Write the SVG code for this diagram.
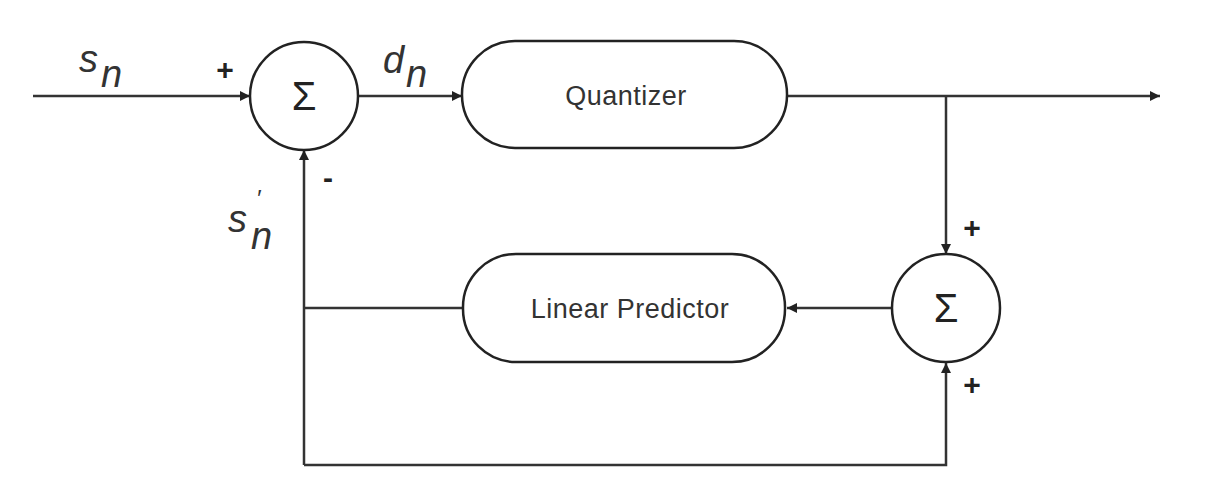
<svg xmlns="http://www.w3.org/2000/svg" width="1208" height="500" viewBox="0 0 1208 500">
<style>
.ln{stroke:#333;stroke-width:2.5;fill:none}
.nd{stroke:#222;stroke-width:2.5;fill:#fff}
.lb{font-family:"Liberation Sans",Arial,sans-serif;fill:#333}
.it{font-family:"Liberation Sans",Arial,sans-serif;font-style:italic;fill:#333;font-size:38px}
.pm{font-family:"Liberation Sans",Arial,sans-serif;fill:#222;font-size:30px;font-weight:bold}
.sg{font-family:"Liberation Sans","DejaVu Sans",sans-serif;fill:#222;font-size:40px}
</style>
<defs>
<marker id="ar" viewBox="0 0 10 10" refX="10" refY="5" markerWidth="12" markerHeight="10" markerUnits="userSpaceOnUse" orient="auto">
<path d="M0,0 L10,5 L0,10 z" fill="#222"/>
</marker>
</defs>
<rect width="1208" height="500" fill="#fff"/>
<g id="connectors">
<line class="ln" x1="33" y1="96" x2="250" y2="96" marker-end="url(#ar)"/>
<line class="ln" x1="358" y1="96" x2="462" y2="96" marker-end="url(#ar)"/>
<line class="ln" x1="787" y1="96" x2="1160" y2="96" marker-end="url(#ar)"/>
<line class="ln" x1="946" y1="96" x2="946" y2="254" marker-end="url(#ar)"/>
<line class="ln" x1="892" y1="308" x2="787" y2="308" marker-end="url(#ar)"/>
<polyline class="ln" points="463,308 304,308"/>
<line class="ln" x1="304" y1="465" x2="304" y2="150" marker-end="url(#ar)"/>
<polyline class="ln" points="304,465 946,465 946,363" marker-end="url(#ar)"/>
</g>
<g id="sum1">
<circle class="nd" cx="304" cy="96" r="54"/>
<text class="sg" x="304" y="110" text-anchor="middle">Σ</text>
</g>
<g id="quantizer">
<rect class="nd" x="462" y="41" width="325" height="107" rx="53" ry="53"/>
<text class="lb" x="626" y="105" font-size="27" text-anchor="middle" letter-spacing="0.5">Quantizer</text>
</g>
<g id="predictor">
<rect class="nd" x="463" y="254" width="322" height="108" rx="53" ry="53"/>
<text class="lb" x="630" y="318" font-size="27" text-anchor="middle" letter-spacing="0.5">Linear Predictor</text>
</g>
<g id="sum2">
<circle class="nd" cx="946" cy="308" r="54"/>
<text class="sg" x="946" y="322" text-anchor="middle">Σ</text>
</g>
<g id="labels">
<text class="it" x="228" y="232">s<tspan x="256" y="207" style="font-size:24px">′</tspan><tspan x="251" y="249">n</tspan></text>
<text class="it" x="79" y="72">s<tspan x="101" y="87">n</tspan></text>
<text class="it" x="383" y="73">d<tspan x="406" y="87">n</tspan></text>
<text class="pm" x="225" y="80" text-anchor="middle">+</text>
<text class="pm" x="328" y="188" text-anchor="middle">-</text>
<text class="pm" x="972" y="238" text-anchor="middle">+</text>
<text class="pm" x="972" y="395" text-anchor="middle">+</text>
</g>
</svg>
